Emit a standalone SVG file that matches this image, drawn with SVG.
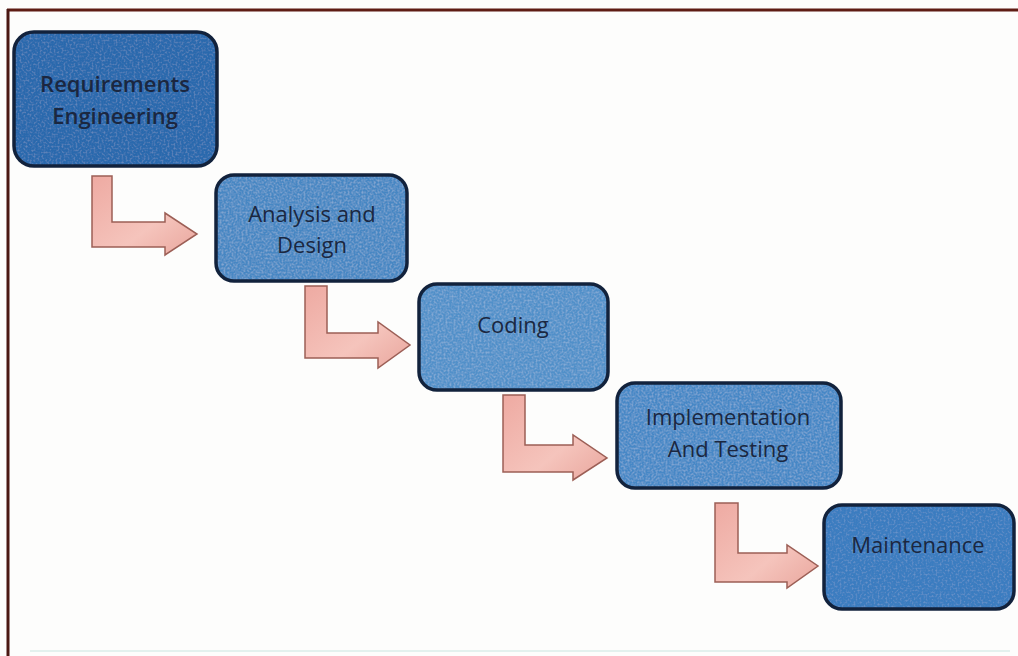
<svg xmlns="http://www.w3.org/2000/svg" width="1018" height="656" viewBox="0 0 1018 656">
  <style>
    .fill { stroke: none; }
    .edge { fill: none; stroke: #12223c; stroke-width: 3.5; }
    .lbl { font-family: "Open Sans", "Liberation Sans", sans-serif; font-size: 22px; fill: #1b2740; text-anchor: middle; }
    .arrow { fill: url(#pink); stroke: #9c5f56; stroke-width: 1.5; stroke-linejoin: miter; }
  </style>
  <defs>
    <linearGradient id="pink" x1="0" y1="0" x2="1" y2="1">
      <stop offset="0" stop-color="#eeaaa2"/>
      <stop offset="0.6" stop-color="#f5c4bc"/>
      <stop offset="1" stop-color="#e9a69d"/>
    </linearGradient>
    <!-- mottled paint texture for the step boxes -->
    <filter id="grain" x="0" y="0" width="100%" height="100%">
      <feTurbulence type="fractalNoise" baseFrequency="0.5" numOctaves="2" seed="4" result="n"/>
      <feColorMatrix in="n" type="matrix" values="0 0 0 0 0.85  0 0 0 0 0.92  0 0 0 0 1  0 0 0 0.5 -0.2" result="spots"/>
      <feComposite in="spots" in2="SourceGraphic" operator="in" result="clip"/>
      <feMerge><feMergeNode in="SourceGraphic"/><feMergeNode in="clip"/></feMerge>
    </filter>
    <filter id="grainSoft" x="0" y="0" width="100%" height="100%">
      <feTurbulence type="fractalNoise" baseFrequency="0.5" numOctaves="2" seed="9" result="n"/>
      <feColorMatrix in="n" type="matrix" values="0 0 0 0 0.8  0 0 0 0 0.9  0 0 0 0 1  0 0 0 0.35 -0.16" result="spots"/>
      <feComposite in="spots" in2="SourceGraphic" operator="in" result="clip"/>
      <feMerge><feMergeNode in="SourceGraphic"/><feMergeNode in="clip"/></feMerge>
    </filter>
  </defs>

  <rect width="1018" height="656" fill="#fdfdfc"/>

  <!-- page frame -->
  <g id="frame" fill="none">
    <line x1="7" y1="10" x2="1018" y2="10" stroke="#5e1c14" stroke-width="3"/>
    <line x1="8" y1="9" x2="8" y2="656" stroke="#4a1712" stroke-width="3"/>
    <line x1="30" y1="651" x2="1010" y2="651" stroke="#e3f1ee" stroke-width="2"/>
  </g>

  <!-- bent step arrows -->
  <g id="connectors">
    <path class="arrow" d="M92,176 H112 V222 H165 V213 L197,234 L165,255 V247 H92 Z"/>
    <path class="arrow" d="M305,286 H327 V333 H378 V322 L410,345 L378,368 V358 H305 Z"/>
    <path class="arrow" d="M503,395 H525 V445 H573 V435 L607,458 L573,480 V472 H503 Z"/>
    <path class="arrow" d="M715,503 H738 V553 H787 V545 L818,566 L787,588 V582 H715 Z"/>
  </g>

  <g id="requirements">
    <rect class="fill" x="14" y="32" width="203" height="134" rx="20" fill="#2c69ad" filter="url(#grainSoft)"/>
    <rect class="edge" x="14" y="32" width="203" height="134" rx="20"/>
    <text class="lbl" x="115" y="92" font-weight="600">Requirements</text>
    <text class="lbl" x="115" y="124" font-weight="600">Engineering</text>
  </g>

  <g id="analysis">
    <rect class="fill" x="216" y="175" width="191" height="106" rx="18" fill="#4787c3" filter="url(#grain)"/>
    <rect class="edge" x="216" y="175" width="191" height="106" rx="18"/>
    <text class="lbl" x="312" y="222">Analysis and</text>
    <text class="lbl" x="312" y="253">Design</text>
  </g>

  <g id="coding">
    <rect class="fill" x="419" y="284" width="189" height="106" rx="18" fill="#5190c9" filter="url(#grain)"/>
    <rect class="edge" x="419" y="284" width="189" height="106" rx="18"/>
    <text class="lbl" x="513" y="333">Coding</text>
  </g>

  <g id="implementation">
    <rect class="fill" x="617" y="383" width="224" height="105" rx="18" fill="#4688c6" filter="url(#grain)"/>
    <rect class="edge" x="617" y="383" width="224" height="105" rx="18"/>
    <text class="lbl" x="728" y="425">Implementation</text>
    <text class="lbl" x="728" y="457">And Testing</text>
  </g>

  <g id="maintenance">
    <rect class="fill" x="824" y="505" width="190" height="104" rx="18" fill="#3a7cc0" filter="url(#grainSoft)"/>
    <rect class="edge" x="824" y="505" width="190" height="104" rx="18"/>
    <text class="lbl" x="918" y="553">Maintenance</text>
  </g>
</svg>
